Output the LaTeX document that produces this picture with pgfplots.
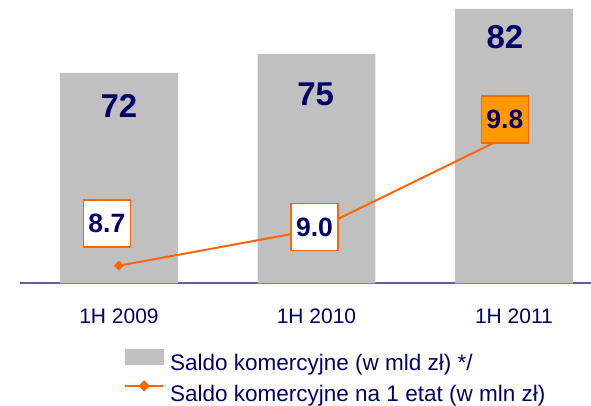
\documentclass[border=0pt]{standalone}
\usepackage{fontspec}
\setmainfont{Liberation Sans}
\usepackage{pgfplots}
\pgfplotsset{compat=1.18}
\definecolor{barGray}{HTML}{C0C0C0}
\definecolor{lineOrange}{HTML}{FF6600}
\definecolor{boxOrange}{HTML}{FF9900}
\definecolor{navyText}{HTML}{000066}
\definecolor{axisBlue}{HTML}{5F5F9F}
\pgfplotsset{
  commonframe/.style={at={(20pt,122.5pt)}, anchor=south west,
    scale only axis, width=571pt, height=283.5pt, xmin=-0.501, xmax=2.39},
}
\tikzset{
  valbox/.style={draw=lineOrange, line width=1.2pt, fill=white, minimum size=47pt, inner sep=0pt,
    font=\bfseries\fontsize{26.5}{30}\selectfont, text=navyText},
}

\begin{document}
\begin{tikzpicture}
\path[use as bounding box] (0,0) rectangle (591pt,406pt);
\begin{axis}[
  commonframe, ymin=39.1, ymax=83.4,
  axis x line=bottom, axis y line=none,
  axis line style={axisBlue, line width=2pt, -},
  xtick={0,1,2}, xticklabels={1H 2009, 1H 2010, 1H 2011},
  major tick length=0pt,
  xticklabel style={font=\fontsize{21}{24}\selectfont, text=navyText, inner sep=0pt, anchor=north, yshift=-25.5pt},
  ybar, bar width=0.597,
]
\addplot[fill=barGray, draw=none] coordinates {(0,72) (1,75) (2,82)};
\node[font=\bfseries\fontsize{33}{36}\selectfont, text=navyText, inner sep=0pt] at (axis cs:0,66.83) {72};
\node[font=\bfseries\fontsize{33}{36}\selectfont, text=navyText, inner sep=0pt] at (axis cs:0.996,68.63) {75};
\node[font=\bfseries\fontsize{33}{36}\selectfont, text=navyText, inner sep=0pt] at (axis cs:1.954,77.66) {82};
\end{axis}
\begin{axis}[
  commonframe, ymin=8.552, ymax=10.903,
  hide axis, clip=false,
  legend style={at={(0.1821,-0.2290)}, anchor=north west, draw=none, fill=none, inner sep=0pt,
    row sep=9pt, font=\fontsize{22.5}{24}\selectfont, text=navyText, nodes={inner sep=0pt},
    /tikz/every odd column/.append style={column sep=6pt}},
  legend cell align=left,
]
\addlegendimage{legend image code/.code={\fill[barGray] (0pt,-1pt) rectangle (38pt,14pt);}}
\addlegendentry{Saldo komercyjne (w mld zł) */}
\addplot[lineOrange, line width=2pt, mark=square*, mark size=3.2pt,
  mark options={rotate=45, fill=lineOrange, draw=lineOrange, line width=0.5pt},
  legend image code/.code={\draw[lineOrange, line width=2pt] (0pt,8.4pt) -- (38pt,8.4pt);
     \fill[lineOrange] (19pt,4.2pt) -- (23.2pt,8.4pt) -- (19pt,12.6pt) -- (14.8pt,8.4pt) -- cycle;}]
  coordinates {(0,8.7) (1,9.0) (2,9.8)};
\addlegendentry{Saldo komercyjne na 1 etat (w mln zł)}
\end{axis}
\begin{axis}[
  commonframe, ymin=8.552, ymax=10.903,
  hide axis, clip=false,
]
\node[valbox] at (axis cs:-0.061,9.049) {8.7};
\node[valbox] at (axis cs:0.990,9.020) {9.0};
\node[valbox, fill=boxOrange] at (axis cs:1.954,9.912) {9.8};
\end{axis}
\end{tikzpicture}
\end{document}
